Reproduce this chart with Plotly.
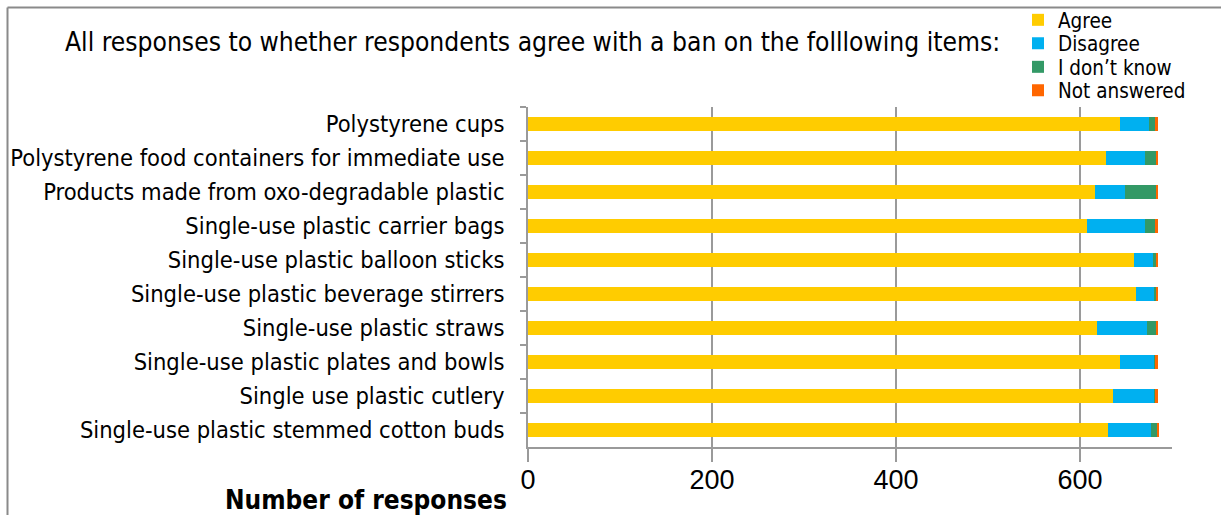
import plotly.graph_objects as go

# Survey items, listed top to bottom
items = [
    "Polystyrene cups",
    "Polystyrene food containers for immediate use",
    "Products made from oxo-degradable plastic",
    "Single-use plastic carrier bags",
    "Single-use plastic balloon sticks",
    "Single-use plastic beverage stirrers",
    "Single-use plastic straws",
    "Single-use plastic plates and bowls",
    "Single use plastic cutlery",
    "Single-use plastic stemmed cotton buds",
]

# Number of responses per answer
agree = [644, 628, 616, 608, 659, 661, 619, 643, 636, 630]
disagree = [31, 43, 33, 63, 20, 19, 54, 38, 45, 47]
dont_know = [7, 12, 34, 11, 4, 3, 10, 1, 1, 7]
not_answered = [3, 2, 2, 3, 2, 2, 2, 3, 3, 1]

x_ticks = [0, 200, 400, 600]

series = [
    ("Agree", agree, "#FFCC00"),
    ("Disagree", disagree, "#00B0F0"),
    ("I don\u2019t know", dont_know, "#339966"),
    ("Not answered", not_answered, "#FF6600"),
]

W, H = 1221, 515
L, R, T, B = 528, 1172, 107, 447  # plot area in pixels

font = "DejaVu Sans Condensed"
grey = "#9a9a9a"

fig = go.Figure()
legend_layouts = {}
legend_rows = [20, 43.5, 67, 90.5]  # vertical centre of each legend entry (px)
for i, (name, vals, color) in enumerate(series):
    key = "legend" if i == 0 else f"legend{i + 1}"
    fig.add_trace(go.Bar(
        y=items, x=vals, name=name, orientation="h",
        marker=dict(color=color, line=dict(width=0)),
        width=0.4,
        legend=key,
    ))
    legend_layouts[key] = dict(
        xref="container", yref="container",
        x=1018 / W, y=1 - legend_rows[i] / H,
        xanchor="left", yanchor="middle",
        font=dict(size=20.5, family=font),
        itemwidth=30, bgcolor="rgba(0,0,0,0)",
    )

def px_x(p):
    return (p - L) / (R - L)

def px_y(p):
    return (B - p) / (B - T)

fig.update_layout(
    width=W, height=H,
    margin=dict(l=L, r=W - R, t=T, b=H - B, autoexpand=False),
    barmode="stack",
    plot_bgcolor="white",
    paper_bgcolor="white",
    font=dict(family=font, size=23.5, color="black"),
    showlegend=True,
    xaxis=dict(
        range=[0, 700], tickvals=x_ticks,
        showgrid=True, gridcolor=grey, gridwidth=1.5,
        showline=True, linecolor=grey, linewidth=1.5,
        ticks="outside", ticklen=13, tickcolor=grey, tickwidth=1.5,
        tickfont=dict(family="Liberation Sans", size=27),
        ticklabelstandoff=-5,
        zeroline=False,
    ),
    yaxis=dict(
        autorange="reversed",
        showline=True, linecolor=grey, linewidth=1.5,
        ticks="outside", ticklen=6, tickcolor=grey, tickwidth=1.5,
        tickson="boundaries",
        ticklabelstandoff=17,
        tickfont=dict(size=23.5),
        showgrid=False,
    ),
    shapes=[
        dict(type="line", xref="paper", yref="paper",
             x0=px_x(7.5), x1=px_x(W + 5), y0=px_y(7.5), y1=px_y(7.5),
             line=dict(color="#8a8a8a", width=2)),
        dict(type="line", xref="paper", yref="paper",
             x0=px_x(7.5), x1=px_x(7.5), y0=px_y(7.5), y1=px_y(H + 5),
             line=dict(color="#8a8a8a", width=2)),
    ],
    annotations=[
        dict(text="All responses to whether respondents agree with a ban on the folllowing items:",
             xref="paper", yref="paper", x=px_x(63), y=px_y(42),
             xanchor="left", yanchor="middle", showarrow=False,
             font=dict(size=26.2)),
        dict(text="<b>Number of responses</b>",
             xref="paper", yref="paper", x=px_x(509), y=px_y(500),
             xanchor="right", yanchor="middle", showarrow=False,
             font=dict(size=26)),
    ],
    **legend_layouts,
)

fig.write_html("out.html")
